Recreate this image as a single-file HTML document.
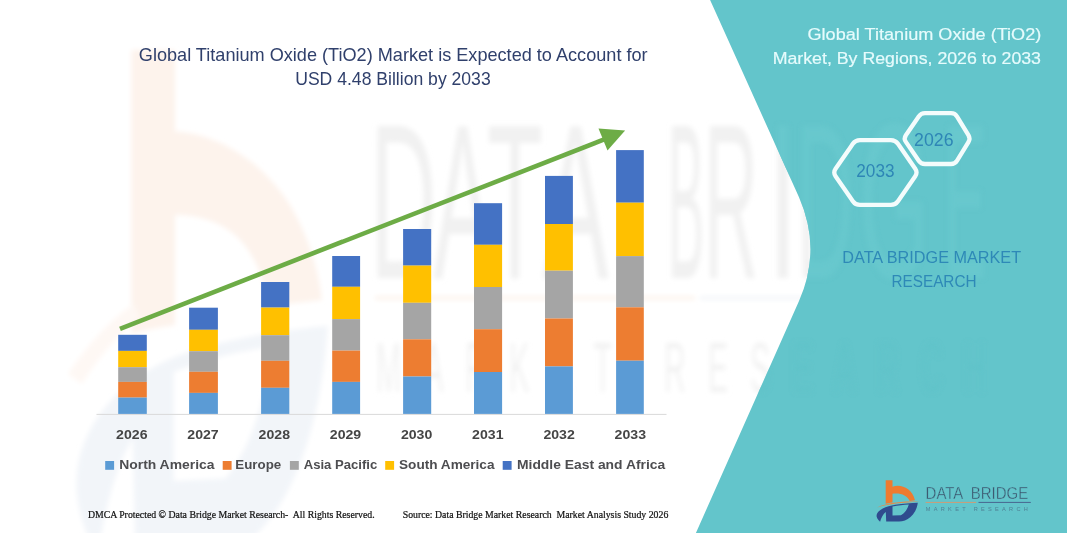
<!DOCTYPE html>
<html><head><meta charset="utf-8"><title>Global Titanium Oxide (TiO2) Market</title>
<style>
html,body{margin:0;padding:0;background:#fff;}
body{width:1067px;height:533px;overflow:hidden;font-family:"Liberation Sans",sans-serif;}
svg{display:block;}
text{font-family:"Liberation Sans",sans-serif;}
.serif{font-family:"Liberation Serif",serif;}
</style></head><body>
<svg width="1067" height="533" viewBox="0 0 1067 533">
<defs>
<filter id="bl" x="-10%" y="-10%" width="120%" height="120%"><feGaussianBlur stdDeviation="2.8"/></filter>
<filter id="bl2" x="-10%" y="-10%" width="120%" height="120%"><feGaussianBlur stdDeviation="1.5"/></filter>
<clipPath id="tealclip"><path d="M710.1,0 L798.9,197 Q822,249 799,301 L695.9,533 L1067,533 L1067,0 Z"/></clipPath>
</defs>
<rect width="1067" height="533" fill="#ffffff"/>

<!-- watermark on white -->
<g id="wm" filter="url(#bl)">
  <path d="M131.5,50 L175,50 L175,131.5 C215,133 262,160 290,205 C306,232 318,265 322,300 L268,306 C264,275 252,250 235,235 C220,222 200,215 175,215 L175,325 C160,327 145,330 131.5,334 Z" fill="#FDF3EC"/>
  <path d="M68,374 C88,344 112,318 134,304 L140,318 C120,332 98,358 82,384 Z" fill="#FEF8F4"/>
  <g transform="translate(73.2,55) scale(6.09,12.1) translate(-876,-480.3)">
    <path d="M880.1,521.8 C877.5,519.5 876.2,517 876.6,515 C877.5,510 886,506.2 895.3,504.8 C903,503.6 911,503 917.8,502.7 C917,509 914,514 910.5,517 C907,520 903,521.6 899,521.6 L886.2,521.6 L885.8,512 C883.2,514 881,518 880.1,521.8 Z M892.5,506.5 C898,505.4 904,504.7 908.8,504.4 C907.5,509 905,513 901,515.3 L892.5,515.5 Z" fill="#F2F5F9" fill-rule="evenodd"/>
  </g>
  <text transform="translate(403.5,277.5) scale(0.966,2.33)" font-size="95" text-anchor="middle" fill="#F1F1F1">D</text>
  <text transform="translate(462.5,277.5) scale(0.918,2.33)" font-size="95" text-anchor="middle" fill="#F1F1F1">A</text>
  <text transform="translate(515.0,277.5) scale(0.963,2.33)" font-size="95" text-anchor="middle" fill="#F1F1F1">T</text>
  <text transform="translate(575.5,277.5) scale(1.047,2.33)" font-size="95" text-anchor="middle" fill="#F1F1F1">A</text>
  <text transform="translate(686.0,277.5) scale(0.577,2.33)" font-size="95" text-anchor="middle" fill="#F1F1F1">B</text>
  <text transform="translate(731.0,277.5) scale(0.789,2.33)" font-size="95" text-anchor="middle" fill="#F1F1F1">R</text>
  <text transform="translate(783.0,277.5) scale(1.147,2.33)" font-size="95" text-anchor="middle" fill="#F1F1F1">I</text>
  <text transform="translate(825.0,277.5) scale(0.838,2.33)" font-size="95" text-anchor="middle" fill="#F1F1F1">D</text>
  <text transform="translate(894.0,277.5) scale(0.944,2.33)" font-size="95" text-anchor="middle" fill="#F1F1F1">G</text>
  <text transform="translate(965.0,277.5) scale(0.671,2.33)" font-size="95" text-anchor="middle" fill="#F1F1F1">E</text>
  <rect x="375" y="296.5" width="320" height="3" fill="#FCF1E8"/>
  <rect x="700" y="296.5" width="270" height="3" fill="#F1F4F8"/>
  <text transform="translate(376,392) scale(1,2.33)" font-size="30" fill="#F2F2F2" textLength="610" lengthAdjust="spacing">MARKET RESEARCH</text>
</g>

<!-- teal panel -->
<path d="M710.1,0 L798.9,197 Q822,249 799,301 L695.9,533 L1067,533 L1067,0 Z" fill="#63C5CB"/>
<g clip-path="url(#tealclip)"><g filter="url(#bl)">
  <text transform="translate(686.0,277.5) scale(0.577,2.33)" font-size="95" text-anchor="middle" fill="#68C8CD">B</text>
  <text transform="translate(731.0,277.5) scale(0.789,2.33)" font-size="95" text-anchor="middle" fill="#68C8CD">R</text>
  <text transform="translate(783.0,277.5) scale(1.147,2.33)" font-size="95" text-anchor="middle" fill="#68C8CD">I</text>
  <text transform="translate(825.0,277.5) scale(0.838,2.33)" font-size="95" text-anchor="middle" fill="#68C8CD">D</text>
  <text transform="translate(894.0,277.5) scale(0.944,2.33)" font-size="95" text-anchor="middle" fill="#68C8CD">G</text>
  <text transform="translate(965.0,277.5) scale(0.671,2.33)" font-size="95" text-anchor="middle" fill="#68C8CD">E</text>
  <text transform="translate(376,392) scale(1,2.33)" font-size="30" fill="#61C3C9" textLength="610" lengthAdjust="spacing">MARKET RESEARCH</text>
</g></g>

<!-- chart title -->
<g fill="#30406C" font-size="17.7">
<text x="138.8" y="61.1" textLength="508.8" lengthAdjust="spacingAndGlyphs">Global Titanium Oxide (TiO2) Market is Expected to Account for</text>
<text x="295.2" y="84.6" textLength="195.5" lengthAdjust="spacingAndGlyphs">USD 4.48 Billion by 2033</text>
</g>

<!-- axis -->
<line x1="96.5" y1="414.4" x2="666.5" y2="414.4" stroke="#D9D9D9" stroke-width="1"/>
<!-- bars -->
<rect x="118.2" y="334.8" width="28.6" height="16.1" fill="#4472C4"/>
<rect x="118.2" y="350.9" width="28.6" height="16.3" fill="#FFC000"/>
<rect x="118.2" y="367.2" width="28.6" height="14.7" fill="#A5A5A5"/>
<rect x="118.2" y="381.9" width="28.6" height="15.7" fill="#ED7D31"/>
<rect x="118.2" y="397.6" width="28.6" height="16.3" fill="#5B9BD5"/>
<rect x="189.1" y="307.7" width="28.8" height="22.1" fill="#4472C4"/>
<rect x="189.1" y="329.8" width="28.8" height="21.4" fill="#FFC000"/>
<rect x="189.1" y="351.2" width="28.8" height="20.6" fill="#A5A5A5"/>
<rect x="189.1" y="371.8" width="28.8" height="21.1" fill="#ED7D31"/>
<rect x="189.1" y="392.9" width="28.8" height="21.0" fill="#5B9BD5"/>
<rect x="261.1" y="282.0" width="28.2" height="25.6" fill="#4472C4"/>
<rect x="261.1" y="307.6" width="28.2" height="27.6" fill="#FFC000"/>
<rect x="261.1" y="335.2" width="28.2" height="25.6" fill="#A5A5A5"/>
<rect x="261.1" y="360.8" width="28.2" height="27.0" fill="#ED7D31"/>
<rect x="261.1" y="387.8" width="28.2" height="26.1" fill="#5B9BD5"/>
<rect x="332.2" y="256.0" width="27.9" height="30.8" fill="#4472C4"/>
<rect x="332.2" y="286.8" width="27.9" height="32.3" fill="#FFC000"/>
<rect x="332.2" y="319.1" width="27.9" height="31.5" fill="#A5A5A5"/>
<rect x="332.2" y="350.6" width="27.9" height="31.3" fill="#ED7D31"/>
<rect x="332.2" y="381.9" width="27.9" height="32.0" fill="#5B9BD5"/>
<rect x="403.1" y="229.0" width="28.1" height="36.6" fill="#4472C4"/>
<rect x="403.1" y="265.6" width="28.1" height="37.2" fill="#FFC000"/>
<rect x="403.1" y="302.8" width="28.1" height="36.5" fill="#A5A5A5"/>
<rect x="403.1" y="339.3" width="28.1" height="37.2" fill="#ED7D31"/>
<rect x="403.1" y="376.5" width="28.1" height="37.4" fill="#5B9BD5"/>
<rect x="474.0" y="203.2" width="28.1" height="41.6" fill="#4472C4"/>
<rect x="474.0" y="244.8" width="28.1" height="42.2" fill="#FFC000"/>
<rect x="474.0" y="287.0" width="28.1" height="42.2" fill="#A5A5A5"/>
<rect x="474.0" y="329.2" width="28.1" height="42.8" fill="#ED7D31"/>
<rect x="474.0" y="372.0" width="28.1" height="41.9" fill="#5B9BD5"/>
<rect x="545.0" y="175.9" width="27.9" height="48.1" fill="#4472C4"/>
<rect x="545.0" y="224.0" width="27.9" height="46.7" fill="#FFC000"/>
<rect x="545.0" y="270.7" width="27.9" height="47.8" fill="#A5A5A5"/>
<rect x="545.0" y="318.5" width="27.9" height="47.9" fill="#ED7D31"/>
<rect x="545.0" y="366.4" width="27.9" height="47.5" fill="#5B9BD5"/>
<rect x="616.1" y="150.1" width="27.7" height="52.6" fill="#4472C4"/>
<rect x="616.1" y="202.7" width="27.7" height="53.4" fill="#FFC000"/>
<rect x="616.1" y="256.1" width="27.7" height="51.2" fill="#A5A5A5"/>
<rect x="616.1" y="307.3" width="27.7" height="53.4" fill="#ED7D31"/>
<rect x="616.1" y="360.7" width="27.7" height="53.2" fill="#5B9BD5"/>
<!-- arrow -->
<line x1="120" y1="328.8" x2="606" y2="138.7" stroke="#6DAC46" stroke-width="4.6"/>
<polygon points="625.1,130.6 598.5,128.4 607.5,150.6" fill="#6DAC46"/>

<!-- year labels -->
<g fill="#454545" font-weight="700" font-size="13.4">
<text x="116.1" y="438.9" textLength="31.4" lengthAdjust="spacingAndGlyphs">2026</text>
<text x="187.3" y="438.9" textLength="31.4" lengthAdjust="spacingAndGlyphs">2027</text>
<text x="258.6" y="438.9" textLength="31.4" lengthAdjust="spacingAndGlyphs">2028</text>
<text x="329.8" y="438.9" textLength="31.4" lengthAdjust="spacingAndGlyphs">2029</text>
<text x="400.9" y="438.9" textLength="31.4" lengthAdjust="spacingAndGlyphs">2030</text>
<text x="472.1" y="438.9" textLength="31.4" lengthAdjust="spacingAndGlyphs">2031</text>
<text x="543.4" y="438.9" textLength="31.4" lengthAdjust="spacingAndGlyphs">2032</text>
<text x="614.6" y="438.9" textLength="31.4" lengthAdjust="spacingAndGlyphs">2033</text>
</g>

<!-- legend -->
<g>
<rect x="105.2" y="461" width="8.9" height="8.8" fill="#5B9BD5"/>
<rect x="222.7" y="461" width="8.9" height="8.8" fill="#ED7D31"/>
<rect x="289.9" y="461" width="8.9" height="8.8" fill="#A5A5A5"/>
<rect x="385.2" y="461" width="8.9" height="8.8" fill="#FFC000"/>
<rect x="502.7" y="461" width="8.9" height="8.8" fill="#4472C4"/>
<g fill="#4D4D50" font-weight="700" font-size="13.6">
<text x="119.2" y="469" textLength="95.3" lengthAdjust="spacingAndGlyphs">North America</text>
<text x="235.3" y="469" textLength="45.9" lengthAdjust="spacingAndGlyphs">Europe</text>
<text x="303.7" y="469" textLength="73.6" lengthAdjust="spacingAndGlyphs">Asia Pacific</text>
<text x="399" y="469" textLength="95.5" lengthAdjust="spacingAndGlyphs">South America</text>
<text x="517" y="469" textLength="148.2" lengthAdjust="spacingAndGlyphs">Middle East and Africa</text>
</g>
</g>

<!-- footer -->
<g class="serif" fill="#111" stroke="#111" stroke-width="0.22" font-size="10.3">
<text class="serif" x="87.9" y="518" textLength="286.7" lengthAdjust="spacingAndGlyphs" xml:space="preserve">DMCA Protected © Data Bridge Market Research-  All Rights Reserved.</text>
<text class="serif" x="402.7" y="518" textLength="265.6" lengthAdjust="spacingAndGlyphs" xml:space="preserve">Source: Data Bridge Market Research  Market Analysis Study 2026</text>
</g>

<!-- right panel title -->
<g fill="#E6FBFC" stroke="#E6FBFC" stroke-width="0.2" font-size="17.4">
<text x="807.5" y="40.2" textLength="233.8" lengthAdjust="spacingAndGlyphs">Global Titanium Oxide (TiO2)</text>
<text x="772.7" y="64.1" textLength="268.3" lengthAdjust="spacingAndGlyphs">Market, By Regions, 2026 to 2033</text>
</g>

<!-- hexagons -->
<g fill="none" stroke="#F4FCFC" stroke-width="4.3" stroke-linejoin="round">
<path d="M835.56,176.20 Q833.00,172.50 835.56,168.80 L852.84,143.80 Q855.40,140.10 859.90,140.10 L890.90,140.10 Q895.40,140.10 897.96,143.80 L915.24,168.80 Q917.80,172.50 915.24,176.20 L897.96,201.20 Q895.40,204.90 890.90,204.90 L859.90,204.90 Q855.40,204.90 852.84,201.20 Z"/>
<path d="M905.86,141.90 Q903.60,138.60 905.86,135.30 L918.74,116.50 Q921.00,113.20 925.00,113.20 L951.00,113.20 Q955.00,113.20 957.08,116.61 L968.42,135.19 Q970.50,138.60 968.42,142.01 L957.08,160.59 Q955.00,164.00 951.00,164.00 L925.00,164.00 Q921.00,164.00 918.74,160.70 Z"/>
</g>
<g fill="#2E86B6" font-size="18.2">
<text x="856.3" y="177.4" textLength="38.2" lengthAdjust="spacingAndGlyphs">2033</text>
<text x="914.1" y="145.8" textLength="39.4" lengthAdjust="spacingAndGlyphs">2026</text>
</g>

<!-- DBMR text -->
<g fill="#2E89B7" font-size="17.2">
<text x="842.3" y="262.6" textLength="178.8" lengthAdjust="spacingAndGlyphs">DATA BRIDGE MARKET</text>
<text x="891.4" y="286.6" textLength="85.2" lengthAdjust="spacingAndGlyphs">RESEARCH</text>
</g>

<!-- logo -->
<g id="logo">
  <path d="M885.7,480.3 L892.5,480.3 L892.5,486.7 C900,483.5 912,487.5 915,500.2 L909.7,501.0 C907,495.5 901,492.8 892.5,493.8 L892.5,502.4 C889,502.9 887,503.3 885.7,503.7 Z" fill="#EE7B30"/>
  <path d="M877.3,507.4 C886,503 903,500.6 919.4,501.8 C903,502.2 887,504.5 877.3,507.4 Z" fill="#E58A4A"/>
  <path d="M880.1,521.8 C877.5,519.5 876.2,517 876.6,515 C877.5,510 886,506.2 895.3,504.8 C903,503.6 911,503 917.8,502.7 C917,509 914,514 910.5,517 C907,520 903,521.6 899,521.6 L886.2,521.6 L885.8,512 C883.2,514 881,518 880.1,521.8 Z M892.5,506.5 C898,505.4 904,504.7 908.8,504.4 C907.5,509 905,513 901,515.3 L892.5,515.5 Z" fill="#2F4B8E" fill-rule="evenodd"/>
  <text x="925.6" y="498.9" font-size="16.8" fill="#3B566E" stroke="#63C5CB" stroke-width="0.35" textLength="102.6" lengthAdjust="spacingAndGlyphs" xml:space="preserve">DATA  BRIDGE</text>
  <rect x="925.6" y="501.9" width="50.6" height="1.1" fill="#C4A07E"/>
  <rect x="978.5" y="501.9" width="52.3" height="1.1" fill="#4A6F95"/>
  <text x="925.8" y="511.2" font-size="5.6" fill="#4A7088" fill-opacity="0.8" textLength="102" lengthAdjust="spacing">MARKET RESEARCH</text>
</g>
</svg>
</body></html>
